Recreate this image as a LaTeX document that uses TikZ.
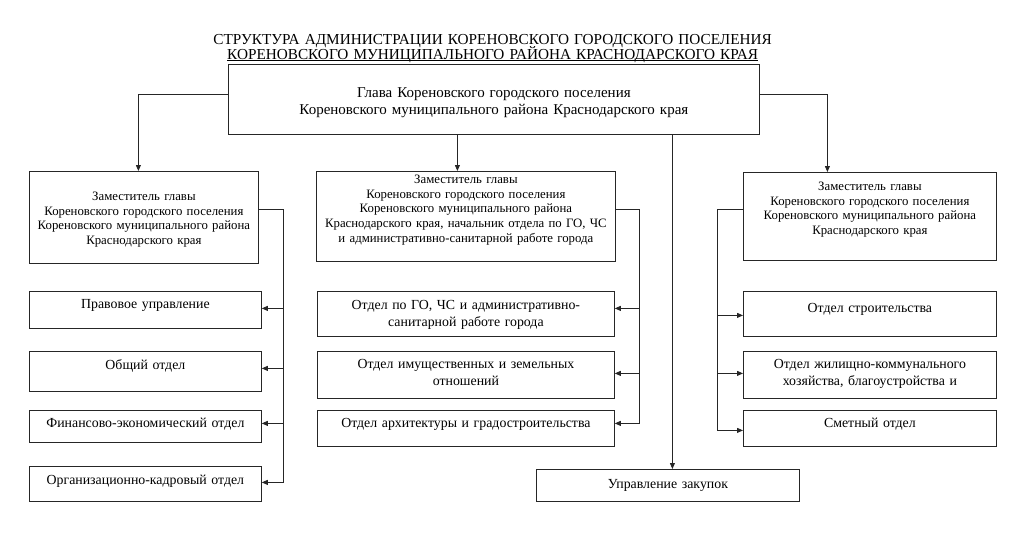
\documentclass[tikz,border=0pt]{standalone}
\usepackage{fontspec}
\setmainfont{Liberation Serif}
\usetikzlibrary{arrows.meta}
\begin{document}
\begin{tikzpicture}[x=1pt,y=-1pt,
    box/.style={draw=black!85,line width=0.8pt,anchor=north west,inner sep=0pt,align=center},
    titletext/.style={font=\fontsize{15.25}{15}\selectfont},
    glavatext/.style={font=\fontsize{15}{17}\selectfont},
    zamtext/.style={font=\fontsize{12.8}{14.7}\selectfont},
    otdtext/.style={font=\fontsize{13.85}{17}\selectfont},
    line/.style={draw=black!85,line width=0.8pt},
    arr/.style={line,-{Triangle[length=6pt,width=5pt]}}]
                \useasboundingbox (0,0) rectangle (1024,543) ;
                \node [anchor=north west,inner sep=0pt,align=center,titletext,text width=680pt,text height=14pt,text depth=16pt] (title) at (152.5,30) {СТРУКТУРА АДМИНИСТРАЦИИ КОРЕНОВСКОГО ГОРОДСКОГО ПОСЕЛЕНИЯ\\ \underline{\smash{КОРЕНОВСКОГО МУНИЦИПАЛЬНОГО РАЙОНА КРАСНОДАРСКОГО КРАЯ}\vphantom{К}}} ;
                \node [box,glavatext,text width=531pt,text height=33pt,text depth=37pt] (glava) at (228,64) {Глава Кореновского городского поселения\\Кореновского муниципального района Краснодарского края} ;
                \node [box,zamtext,text width=229pt,text height=29pt,text depth=63pt] (zam1) at (29,171) {Заместитель главы\\Кореновского городского поселения\\Кореновского муниципального района\\Краснодарского края} ;
                \node [box,zamtext,text width=299pt,text height=12pt,text depth=78pt] (zam2) at (316,171) {Заместитель главы\\Кореновского городского поселения\\Кореновского муниципального района\\Краснодарского края, начальник отдела по ГО, ЧС\\и административно-санитарной работе города} ;
                \node [box,zamtext,text width=253pt,text height=18pt,text depth=70pt] (zam3) at (743,172) {Заместитель главы\\Кореновского городского поселения\\Кореновского муниципального района\\Краснодарского края} ;
                \node [box,otdtext,text width=232pt,text height=17pt,text depth=20pt] (pravo) at (29,291) {Правовое управление} ;
                \node [box,otdtext,text width=232pt,text height=18pt,text depth=22pt] (obsh) at (29,351) {Общий отдел} ;
                \node [box,otdtext,text width=232pt,text height=17pt,text depth=15pt] (fin) at (29,410) {Финансово-экономический отдел} ;
                \node [box,otdtext,text width=232pt,text height=18pt,text depth=17pt] (org) at (29,466) {Организационно-кадровый отдел} ;
                \node [box,otdtext,text width=297pt,text height=18pt,text depth=27pt] (go) at (317,291) {Отдел по ГО, ЧС и административно-\\санитарной работе города} ;
                \node [box,otdtext,text width=297pt,text height=17pt,text depth=30pt] (imush) at (317,351) {Отдел имущественных и земельных\\отношений} ;
                \node [box,otdtext,text width=297pt,text height=17pt,text depth=19pt] (arch) at (317,410) {Отдел архитектуры и градостроительства} ;
                \node [box,otdtext,text width=253pt,text height=21pt,text depth=24pt] (stroi) at (743,291) {Отдел строительства} ;
                \node [box,otdtext,text width=253pt,text height=17pt,text depth=30pt] (zhkh) at (743,351) {Отдел жилищно-коммунального\\хозяйства, благоустройства и} ;
                \node [box,otdtext,text width=253pt,text height=17pt,text depth=19pt] (smet) at (743,410) {Сметный отдел} ;
                \node [box,otdtext,text width=263pt,text height=19pt,text depth=13pt] (zak) at (536,469) {Управление закупок} ;
                \draw [arr] ([yshift=5pt]glava.west) -| ([xshift=-5.5pt]zam1.north) ;
                \draw [arr] ([yshift=5pt]glava.east) -| ([xshift=-42.5pt]zam3.north) ;
                \draw [arr] ([xshift=-36.5pt]glava.south) -- ([xshift=-8.5pt]zam2.north) ;
                \draw [arr] ([xshift=178.5pt]glava.south) -- ([xshift=4.5pt]zak.north) ;
                \draw [arr] ([yshift=8pt]zam1.east) -- ++(25,0) |- ([yshift=1.5pt]pravo.east) ;
                \draw [arr] ([yshift=8pt]zam1.east) -- ++(25,0) |- ([yshift=3pt]obsh.east) ;
                \draw [arr] ([yshift=8pt]zam1.east) -- ++(25,0) |- ([yshift=3pt]fin.east) ;
                \draw [arr] ([yshift=8pt]zam1.east) -- ++(25,0) |- ([yshift=1.5pt]org.east) ;
                \draw [arr] ([yshift=7pt]zam2.east) -- ++(24,0) |- ([yshift=5.5pt]go.east) ;
                \draw [arr] ([yshift=7pt]zam2.east) -- ++(24,0) |- ([yshift=1.5pt]imush.east) ;
                \draw [arr] ([yshift=7pt]zam2.east) -- ++(24,0) |- ([yshift=5pt]arch.east) ;
                \draw [arr] ([yshift=7pt]zam3.west) -- ++(-26,0) |- ([yshift=-1.5pt]stroi.west) ;
                \draw [arr] ([yshift=7pt]zam3.west) -- ++(-26,0) |- ([yshift=1.5pt]zhkh.west) ;
                \draw [arr] ([yshift=7pt]zam3.west) -- ++(-26,0) |- ([yshift=-2pt]smet.west) ;
\end{tikzpicture}
\end{document}
